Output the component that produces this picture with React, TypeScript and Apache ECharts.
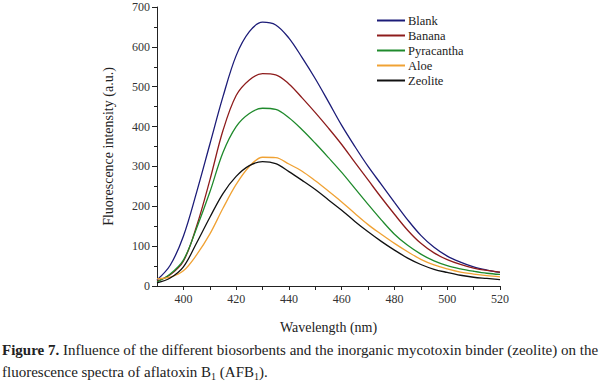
import React, { useEffect, useRef } from "react";
import * as echarts from "echarts";

const wavelengths = [390, 395, 400, 405, 410, 415, 420, 425, 430, 435, 440, 445, 450, 455, 460, 465, 470, 475, 480, 485, 490, 495, 500, 505, 510, 515, 520];
const blank = [15, 52, 125, 235, 355, 475, 578, 638, 662, 655, 622, 573, 520, 462, 403, 350, 300, 255, 210, 166, 127, 97, 75, 60, 48, 40, 34];
const banana = [12, 28, 62, 150, 265, 390, 478, 517, 533, 530, 507, 472, 435, 396, 355, 310, 266, 222, 180, 140, 107, 83, 66, 54, 45, 39, 35];
const pyracantha = [10, 30, 65, 145, 235, 335, 400, 433, 446, 443, 422, 392, 358, 322, 285, 245, 205, 166, 130, 102, 80, 63, 51, 43, 37, 32, 29];
const aloe = [18, 22, 38, 78, 130, 195, 255, 300, 323, 322, 306, 288, 264, 238, 211, 182, 154, 130, 107, 86, 67, 53, 43, 35, 30, 26, 23];
const zeolite = [8, 20, 48, 108, 172, 232, 275, 302, 312, 307, 287, 265, 242, 216, 190, 162, 136, 112, 90, 70, 54, 42, 34, 27, 22, 19, 16];

const seriesNames = ["Blank", "Banana", "Pyracantha", "Aloe", "Zeolite"];
const seriesColors = ["#1c1c78", "#8e1c1c", "#1f8a2c", "#f0a234", "#111111"];
const seriesValues = [blank, banana, pyracantha, aloe, zeolite];

const xTickValues = [400, 410, 420, 430, 440, 450, 460, 470, 480, 490, 500, 510, 520];
const xLabelValues = [400, 420, 440, 460, 480, 500, 520];

const SERIF = "'Liberation Serif', 'Times New Roman', serif";

export default function App() {
  const ref = useRef<HTMLDivElement>(null);
  useEffect(() => {
    if (!ref.current) return;
    const chart = echarts.init(ref.current, undefined, { renderer: "svg" });
    chart.setOption({
      animation: false,
      backgroundColor: "#ffffff",
      grid: { left: 157, right: 100, top: 7, bottom: 100, containLabel: false },
      legend: {
        orient: "vertical",
        left: 372,
        top: 9,
        icon: "rect",
        itemWidth: 28,
        itemHeight: 2,
        itemGap: 2,
        textStyle: { fontFamily: SERIF, fontSize: 12.5, color: "#222", padding: [0, 0, 0, -2] },
        data: seriesNames,
      },
      xAxis: {
        type: "value",
        min: 390,
        max: 520,
        name: "Wavelength (nm)",
        nameLocation: "middle",
        nameGap: 34,
        nameTextStyle: { fontFamily: SERIF, fontSize: 14, color: "#222" },
        axisLine: { show: true, onZero: false, lineStyle: { color: "#222", width: 1 } },
        axisTick: { show: true, length: 4, customValues: xTickValues, lineStyle: { color: "#222" } },
        axisLabel: { customValues: xLabelValues, fontFamily: SERIF, fontSize: 12, color: "#333", margin: 7 },
        splitLine: { show: false },
      },
      yAxis: {
        type: "value",
        min: 0,
        max: 700,
        interval: 100,
        name: "Fluorescence intensity (a.u.)",
        nameLocation: "middle",
        nameGap: 42,
        nameTextStyle: { fontFamily: SERIF, fontSize: 14, color: "#222" },
        axisLine: { show: true, lineStyle: { color: "#222", width: 1 } },
        axisTick: { show: true, length: 5, lineStyle: { color: "#222" } },
        minorTick: { show: true, splitNumber: 2, length: 3, lineStyle: { color: "#222" } },
        axisLabel: { fontFamily: SERIF, fontSize: 12, color: "#333", margin: 7 },
        splitLine: { show: false },
      },
      series: seriesNames.map((name, i) => ({
        name,
        type: "line",
        smooth: 0.35,
        symbol: "none",
        lineStyle: { color: seriesColors[i], width: 1.3 },
        itemStyle: { color: seriesColors[i] },
        data: wavelengths.map((w, j) => [w, seriesValues[i][j]]),
      })),
      graphic: [
        {
          type: "text",
          left: 2,
          top: 339,
          style: {
            text: "{b|Figure 7.} Influence of the different biosorbents and the inorganic mycotoxin binder (zeolite) on the\nfluorescence spectra of aflatoxin B{s|1} (AFB{s|1}).",
            fontFamily: SERIF,
            fontSize: 15,
            lineHeight: 22,
            fill: "#222",
            rich: {
              b: { fontFamily: SERIF, fontSize: 15, fontWeight: "bold", fill: "#222", lineHeight: 22 },
              s: { fontFamily: SERIF, fontSize: 10, fill: "#222", padding: [8, 0, 0, 0], lineHeight: 22 },
            },
          },
        },
      ],
    });
    return () => chart.dispose();
  }, []);
  return <div ref={ref} style={{ width: 600, height: 386, position: "absolute", left: 0, top: 0 }} />;
}
